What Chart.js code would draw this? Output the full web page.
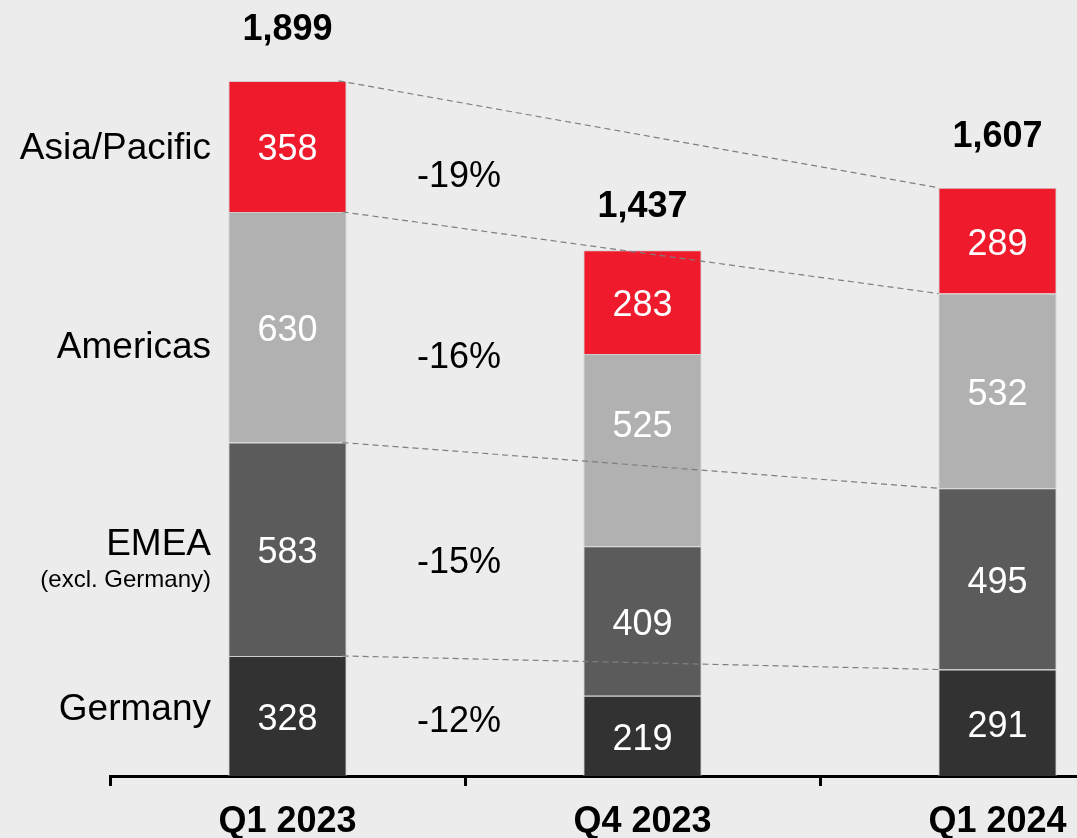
<!DOCTYPE html>
<html lang="en">
<head>
    <meta charset="UTF-8">
    <title>Revenue by region</title>
    <script src="https://cdn.jsdelivr.net/npm/chart.js@4/dist/chart.umd.min.js"></script>
    <style>
        html, body {
            margin: 0;
            padding: 0;
            background: #ececec;
            overflow: hidden;
            width: 1077px;
            height: 838px;
        }
        canvas {
            display: block;
        }
    </style>
</head>
<body>
<canvas id="grafico" width="1185" height="838"></canvas>

<script>
    // dados
    const quarters = ['Q1 2023', 'Q4 2023', 'Q1 2024'];
    const germany = [328, 219, 291];
    const emea = [583, 409, 495];
    const americas = [630, 525, 532];
    const asiaPacific = [358, 283, 289];
    const totals = ['1,899', '1,437', '1,607'];
    const regionNames = ['Germany', 'EMEA', 'Americas', 'Asia/Pacific'];
    const changes = ['-12%', '-15%', '-16%', '-19%'];

    const FONT = '"Liberation Sans", Arial, sans-serif';

    // textos em volta das barras
    const anotacoes = {
        id: 'anotacoes',
        afterDatasetsDraw(chart) {
            const ctx = chart.ctx;
            const y = chart.scales.y;
            const metas = chart.data.datasets.map((d, i) => chart.getDatasetMeta(i));

            ctx.save();

            // linhas tracejadas entre Q1 2023 e Q1 2024
            ctx.strokeStyle = '#7f7f7f';
            ctx.lineWidth = 1.2;
            ctx.setLineDash([6, 4]);
            let acc0 = 0, acc2 = 0;
            chart.data.datasets.forEach((ds, i) => {
                const b0 = metas[i].data[0];
                const b2 = metas[i].data[2];
                acc0 += ds.data[0];
                acc2 += ds.data[2];
                if (i === 0) return;
                ctx.beginPath();
                ctx.moveTo(b0.x + b0.width / 2 - 4, y.getPixelForValue(acc0 - ds.data[0]));
                ctx.lineTo(b2.x - b2.width / 2, y.getPixelForValue(acc2 - ds.data[2]));
                ctx.stroke();
            });
            // topo
            {
                const b0 = metas[3].data[0], b2 = metas[3].data[2];
                ctx.beginPath();
                ctx.moveTo(b0.x + b0.width / 2 - 8, y.getPixelForValue(acc0));
                ctx.lineTo(b2.x - b2.width / 2, y.getPixelForValue(acc2));
                ctx.stroke();
            }
            ctx.setLineDash([]);

            // valores dentro dos segmentos
            ctx.fillStyle = '#ffffff';
            ctx.font = '36px ' + FONT;
            ctx.textAlign = 'center';
            ctx.textBaseline = 'middle';
            metas.forEach((meta, i) => {
                meta.data.forEach((bar, j) => {
                    let cy = (bar.y + bar.base) / 2 + 4;
                    if (i === 2 && j === 1) cy -= 27;
                    ctx.fillText(String(chart.data.datasets[i].data[j]), bar.x, cy);
                });
            });

            // totais
            ctx.fillStyle = '#000000';
            ctx.font = 'bold 36px ' + FONT;
            metas[3].data.forEach((bar, j) => {
                const dy = j === 1 ? 43 : 51;
                ctx.fillText(totals[j], bar.x, bar.y - dy);
            });

            // nomes das regioes e variacoes
            const dyNome = [-6, -4, 21, 2];
            const dyVar = [6, 14, 31, 31];
            metas.forEach((meta, i) => {
                const bar = meta.data[0];
                const cy = (bar.y + bar.base) / 2;
                ctx.fillStyle = '#000000';
                ctx.font = '37px ' + FONT;
                ctx.textAlign = 'right';
                ctx.fillText(regionNames[i], 211, cy + dyNome[i]);
                if (i === 1) {
                    ctx.font = '24px ' + FONT;
                    ctx.fillText('(excl. Germany)', 211, cy + dyNome[i] + 35);
                }
                ctx.font = '36px ' + FONT;
                ctx.textAlign = 'center';
                ctx.fillText(changes[i], 459, cy + dyVar[i]);
            });

            ctx.restore();
        }
    };

    const ctx = document.getElementById('grafico').getContext('2d');
    const grafico = new Chart(ctx, {
        type: 'bar',
        data: {
            labels: quarters,
            datasets: [
                {label: 'Germany', data: germany, backgroundColor: '#323232'},
                {label: 'EMEA (excl. Germany)', data: emea, backgroundColor: '#5b5b5b'},
                {label: 'Americas', data: americas, backgroundColor: '#b1b1b1'},
                {label: 'Asia/Pacific', data: asiaPacific, backgroundColor: '#ef1b2d'}
            ]
        },
        options: {
            responsive: false,
            animation: false,
            events: [],
            layout: {padding: {left: 110, right: 10, top: 0, bottom: 0}},
            datasets: {
                bar: {
                    categoryPercentage: 1,
                    barPercentage: 0.333,
                    borderWidth: 1,
                    borderColor: '#cdcdcd',
                    borderSkipped: 'bottom'
                }
            },
            plugins: {
                legend: {display: false},
                tooltip: {enabled: false}
            },
            scales: {
                x: {
                    stacked: true,
                    afterFit: (scale) => { scale.height = 62; },
                    border: {display: true, color: '#000000', width: 3},
                    grid: {
                        offset: true,
                        drawOnChartArea: false,
                        drawTicks: true,
                        tickLength: 10,
                        color: '#000000',
                        lineWidth: 3
                    },
                    ticks: {
                        color: '#000000',
                        padding: 14,
                        font: {family: FONT, size: 36, weight: 'bold'},
                        maxRotation: 0
                    }
                },
                y: {
                    stacked: true,
                    display: false,
                    min: 0,
                    max: 2120
                }
            }
        },
        plugins: [anotacoes]
    });
</script>
</body>
</html>
